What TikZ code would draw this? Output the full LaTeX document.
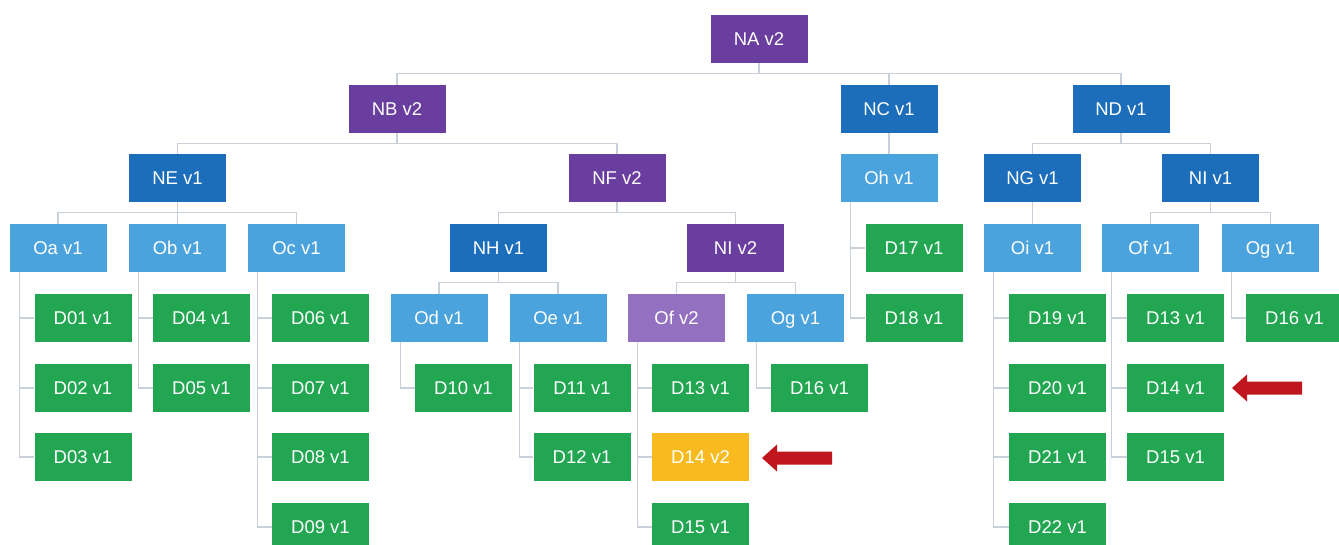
\documentclass[tikz,border=0pt]{standalone}
\usepackage{fontspec}
\setmainfont{Liberation Sans}
\definecolor{cpurple}{HTML}{6A3E9E}
\definecolor{cdblue}{HTML}{1C6EBA}
\definecolor{clblue}{HTML}{4BA3DD}
\definecolor{cgreen}{HTML}{22A652}
\definecolor{clpurple}{HTML}{9370C0}
\definecolor{cyellow}{HTML}{F9BA1F}
\definecolor{cred}{HTML}{C0161D}
\definecolor{cline}{HTML}{C9D0DA}
\tikzset{
  box/.style={minimum width=97pt, minimum height=48pt, inner sep=0pt, text=white,
    text height=13.3pt, text depth=0pt,
    font=\fontsize{18.5}{20}\selectfont},
  pu/.style={box, fill=cpurple},
  db/.style={box, fill=cdblue},
  lb/.style={box, fill=clblue},
  gr/.style={box, fill=cgreen},
  lp/.style={box, fill=clpurple},
  ye/.style={box, fill=cyellow},
  conn/.style={draw=cline, line width=1.3pt},
  redarrow/.style={fill=cred},
}
\newcommand{\leaf}[2]{\draw[conn] ([xshift=10pt]#1.south west) |- (#2.west);}
\newcommand{\tree}[2]{\draw[conn] (#1.south) -- ++(0,10) -| (#2.north);}
\begin{document}
\begin{tikzpicture}[x=1pt, y=-1pt]
\useasboundingbox (0,0) rectangle (1339,545);
\fill[white] (0,0) rectangle (1339,545);
% row 0
\node[pu] (NA) at (759,39) {NA v2};
% row 1
\node[pu] (NB) at (397,109) {NB v2};
\node[db] (NC) at (889,109) {NC v1};
\node[db] (ND) at (1121,109) {ND v1};
% row 2
\node[db] (NE) at (177.5,178) {NE v1};
\node[pu] (NF) at (617,178) {NF v2};
\node[lb] (Oh) at (889,178) {Oh v1};
\node[db] (NG) at (1032.5,178) {NG v1};
\node[db] (NIr) at (1210.5,178) {NI v1};
% row 3
\node[lb] (Oa) at (58,248) {Oa v1};
\node[lb] (Ob) at (177.5,248) {Ob v1};
\node[lb] (Oc) at (296.5,248) {Oc v1};
\node[db] (NH) at (498.5,248) {NH v1};
\node[pu] (NIm) at (735.5,248) {NI v2};
\node[gr] (D17) at (914,248) {D17 v1};
\node[lb] (Oi) at (1032.5,248) {Oi v1};
\node[lb] (Ofr) at (1150.5,248) {Of v1};
\node[lb] (Ogr) at (1270.5,248) {Og v1};
% row 4
\node[gr] (D01) at (83,318) {D01 v1};
\node[gr] (D04) at (201.5,318) {D04 v1};
\node[gr] (D06) at (320.5,318) {D06 v1};
\node[lb] (Od) at (439,318) {Od v1};
\node[lb] (Oe) at (558,318) {Oe v1};
\node[lp] (Ofm) at (676.5,318) {Of v2};
\node[lb] (Ogm) at (795.5,318) {Og v1};
\node[gr] (D18) at (914,318) {D18 v1};
\node[gr] (D19) at (1057.5,318) {D19 v1};
\node[gr] (D13r) at (1175.5,318) {D13 v1};
\node[gr] (D16r) at (1294.5,318) {D16 v1};
% row 5
\node[gr] (D02) at (83,388) {D02 v1};
\node[gr] (D05) at (201.5,388) {D05 v1};
\node[gr] (D07) at (320.5,388) {D07 v1};
\node[gr] (D10) at (463.5,388) {D10 v1};
\node[gr] (D11) at (582,388) {D11 v1};
\node[gr] (D13m) at (700.5,388) {D13 v1};
\node[gr] (D16m) at (819.5,388) {D16 v1};
\node[gr] (D20) at (1057.5,388) {D20 v1};
\node[gr] (D14r) at (1175.5,388) {D14 v1};
% row 6
\node[gr] (D03) at (83,457) {D03 v1};
\node[gr] (D08) at (320.5,457) {D08 v1};
\node[gr] (D12) at (582,457) {D12 v1};
\node[ye] (D14m) at (700.5,457) {D14 v2};
\node[gr] (D21) at (1057.5,457) {D21 v1};
\node[gr] (D15r) at (1175.5,457) {D15 v1};
% row 7
\node[gr] (D09) at (320.5,527) {D09 v1};
\node[gr] (D15m) at (700.5,527) {D15 v1};
\node[gr] (D22) at (1057.5,527) {D22 v1};
% tree connectors
\tree{NA}{NB}
\tree{NA}{NC}
\tree{NA}{ND}
\tree{NB}{NE}
\tree{NB}{NF}
\tree{NC}{Oh}
\tree{ND}{NG}
\tree{ND}{NIr}
\tree{NE}{Oa}
\tree{NE}{Ob}
\tree{NE}{Oc}
\tree{NF}{NH}
\tree{NF}{NIm}
\tree{NG}{Oi}
\tree{NIr}{Ofr}
\tree{NIr}{Ogr}
\tree{NH}{Od}
\tree{NH}{Oe}
\tree{NIm}{Ofm}
\tree{NIm}{Ogm}
% leaf connectors
\leaf{Oa}{D01} \leaf{Oa}{D02} \leaf{Oa}{D03}
\leaf{Ob}{D04} \leaf{Ob}{D05}
\leaf{Oc}{D06} \leaf{Oc}{D07} \leaf{Oc}{D08} \leaf{Oc}{D09}
\leaf{Od}{D10}
\leaf{Oe}{D11} \leaf{Oe}{D12}
\leaf{Ofm}{D13m} \leaf{Ofm}{D14m} \leaf{Ofm}{D15m}
\leaf{Ogm}{D16m}
\leaf{Oh}{D17} \leaf{Oh}{D18}
\leaf{Oi}{D19} \leaf{Oi}{D20} \leaf{Oi}{D21} \leaf{Oi}{D22}
\leaf{Ofr}{D13r} \leaf{Ofr}{D14r} \leaf{Ofr}{D15r}
\leaf{Ogr}{D16r}
% red arrows
\fill[redarrow] (762,458) -- (777,444.5) -- (777,451.5) -- (832,451.5) -- (832,464.5) -- (777,464.5) -- (777,471.5) -- cycle;
\fill[redarrow] (1232,388) -- (1247,374.5) -- (1247,381.5) -- (1302,381.5) -- (1302,394.5) -- (1247,394.5) -- (1247,401.5) -- cycle;
\end{tikzpicture}
\end{document}
